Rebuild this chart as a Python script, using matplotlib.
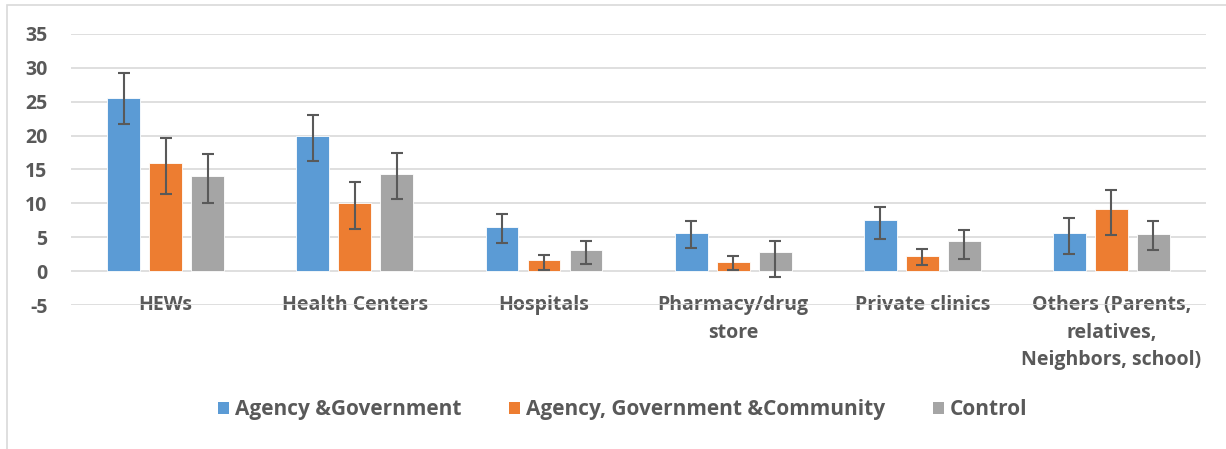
import numpy as np
import matplotlib.pyplot as plt
from matplotlib.patches import Rectangle, Patch

categories = ["HEWs", "Health Centers", "Hospitals", "Pharmacy/drug\nstore",
              "Private clinics", "Others (Parents,\nrelatives,\nNeighbors, school)"]
series = ["Agency &Government", "Agency, Government &Community", "Control"]

# bar heights
ag = [25.6, 19.9, 6.5, 5.7, 7.5, 5.7]
agc = [15.9, 10.1, 1.6, 1.4, 2.3, 9.2]
ctrl = [14.1, 14.4, 3.1, 2.8, 4.4, 5.5]

# error bar ends (low, high)
ag_lo = [21.7, 16.3, 4.1, 3.4, 4.8, 2.6]
ag_hi = [29.3, 23.0, 8.4, 7.4, 9.5, 7.8]
agc_lo = [11.4, 6.2, 0.1, 0.2, 0.9, 5.4]
agc_hi = [19.7, 13.1, 2.4, 2.2, 3.2, 12.0]
ctrl_lo = [10.1, 10.6, 1.0, -0.8, 1.8, 3.1]
ctrl_hi = [17.3, 17.5, 4.5, 4.5, 6.0, 7.4]

colors = ["#5B9BD5", "#ED7D31", "#A5A5A5"]
text_col = "#595959"

plt.rcParams['font.family'] = ['Open Sans', 'DejaVu Sans']
plt.rcParams['font.weight'] = 'bold'
plt.rcParams['axes.unicode_minus'] = False

fig = plt.figure(figsize=(12.26, 4.49), dpi=100)
ax = fig.add_axes([0.058, 0.3207, 0.9257, 0.6036])

x = np.arange(len(categories))
w = 0.174
step = 0.222
data = [(ag, ag_lo, ag_hi), (agc, agc_lo, agc_hi), (ctrl, ctrl_lo, ctrl_hi)]
for i, (vals, lo, hi) in enumerate(data):
    vals = np.array(vals)
    err = [vals - np.array(lo), np.array(hi) - vals]
    ax.bar(x + (i - 1) * step, vals, w, color=colors[i], edgecolor="white",
           linewidth=0.6, zorder=2, yerr=err, capsize=4,
           error_kw=dict(ecolor="#595959", elinewidth=1.5, capthick=1.5, zorder=3))

ax.set_xlim(-0.5, len(categories) - 0.5)
ax.set_ylim(-5, 35)
ax.set_yticks(range(-5, 36, 5))
ax.grid(axis="y", color="#D9D9D9", linewidth=1.2, zorder=0)
ax.set_axisbelow(True)
for s in ax.spines.values():
    s.set_visible(False)
ax.tick_params(axis="both", length=0, labelsize=14, labelcolor=text_col)
ax.tick_params(axis="y", pad=17)
ax.tick_params(axis="x", pad=-7)
ax.set_xticks(x)
ax.set_xticklabels(categories, linespacing=1.5, va="top", fontweight="bold")
for t in ax.get_yticklabels():
    t.set_fontweight("bold")

handles = [Patch(facecolor=c) for c in colors]
fig.legend(handles, series, loc="center", bbox_to_anchor=(0.508, 0.087), ncol=3,
           frameon=False, prop=dict(size=15, weight="bold"), labelcolor=text_col,
           handlelength=0.5, handleheight=0.5, handletextpad=0.3, columnspacing=2.3)

fig.patches.append(Rectangle((7 / 1226, -0.1), 1.2, 1 - 5 / 449 + 0.1,
                             transform=fig.transFigure, fill=False,
                             edgecolor="#D9D9D9", linewidth=1.2))

fig.savefig("out.png", dpi=100)
